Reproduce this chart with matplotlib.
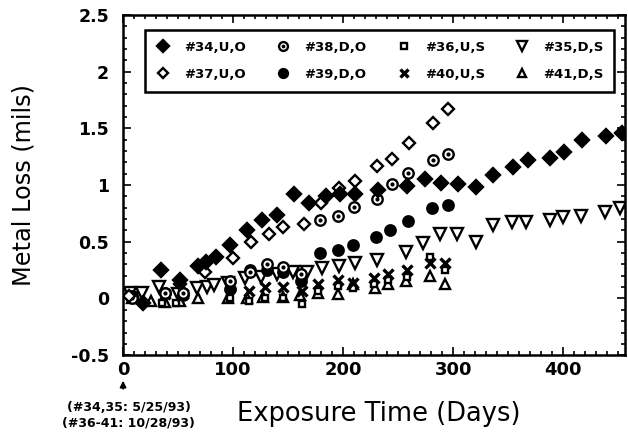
import matplotlib.pyplot as plt
from matplotlib.legend_handler import HandlerTuple
from matplotlib.ticker import MultipleLocator

# Data (days, mils)
x34 = [18, 34, 52, 68, 75, 84, 97, 113, 126, 140, 155, 169, 184, 197, 211, 232, 258, 274,
       289, 304, 321, 336, 354, 368, 388, 401, 417, 439, 453]
y34 = [-0.04, 0.25, 0.16, 0.29, 0.32, 0.37, 0.47, 0.60, 0.69, 0.74, 0.92, 0.84, 0.90, 0.92,
       0.92, 0.96, 0.99, 1.05, 1.02, 1.01, 0.98, 1.09, 1.16, 1.22, 1.24, 1.29, 1.40, 1.43, 1.46]

x37 = [5, 52, 74, 100, 116, 133, 145, 164, 180, 196, 211, 231, 244, 260, 282, 295]
y37 = [0.02, 0.13, 0.23, 0.36, 0.50, 0.57, 0.63, 0.66, 0.84, 0.97, 1.04, 1.17, 1.23, 1.37, 1.55, 1.67]

x38 = [8, 38, 54, 97, 115, 131, 145, 162, 179, 195, 210, 231, 244, 259, 282, 295]
y38 = [0.0, 0.05, 0.05, 0.15, 0.23, 0.30, 0.28, 0.22, 0.69, 0.73, 0.81, 0.88, 1.01, 1.11, 1.22, 1.27]

x39 = [8, 38, 54, 97, 115, 131, 145, 162, 179, 195, 209, 230, 243, 259, 281, 295]
y39 = [0.02, 0.05, 0.03, 0.08, 0.25, 0.25, 0.23, 0.15, 0.40, 0.43, 0.47, 0.54, 0.60, 0.68, 0.80, 0.82]

x35 = [6, 17, 33, 50, 67, 76, 83, 95, 111, 125, 140, 154, 167, 181, 196, 211, 231, 257, 273,
       288, 303, 321, 336, 353, 366, 388, 400, 416, 438, 452]
y35 = [0.05, 0.05, 0.10, 0.04, 0.09, 0.10, 0.12, 0.14, 0.18, 0.19, 0.22, 0.23, 0.23, 0.27,
       0.29, 0.31, 0.34, 0.41, 0.49, 0.57, 0.57, 0.50, 0.65, 0.67, 0.67, 0.69, 0.72, 0.73, 0.76, 0.80]

x36 = [11, 35, 48, 97, 114, 129, 145, 163, 177, 195, 209, 228, 241, 258, 279, 293]
y36 = [-0.01, -0.04, -0.04, 0.0, -0.02, 0.0, 0.0, -0.05, 0.07, 0.11, 0.09, 0.13, 0.16, 0.19, 0.37, 0.25]

x40 = [9, 38, 54, 97, 114, 129, 145, 163, 177, 195, 209, 228, 241, 258, 279, 293]
y40 = [0.02, 0.04, 0.04, 0.10, 0.07, 0.10, 0.10, 0.07, 0.13, 0.16, 0.14, 0.18, 0.22, 0.25, 0.31, 0.31]

x41 = [8, 25, 38, 52, 68, 95, 113, 127, 145, 161, 177, 195, 209, 229, 241, 257, 279, 293]
y41 = [0.0, -0.02, -0.03, -0.02, 0.0, 0.0, 0.0, 0.01, 0.01, 0.03, 0.05, 0.04, 0.13, 0.09,
       0.13, 0.15, 0.20, 0.13]

fig = plt.figure(figsize=(6.28, 4.38), dpi=100)
ax = fig.add_axes([0.196, 0.189, 0.799, 0.777])

mk = dict(linestyle='none', color='black', markeredgewidth=1.7)
h41, = ax.plot(x41, y41, marker='^', markersize=7.5, markerfacecolor='white', **mk)
h36, = ax.plot(x36, y36, marker='s', markersize=5, markerfacecolor='white', **mk)
h40, = ax.plot(x40, y40, marker='x', markersize=6.5, markeredgewidth=2.4, linestyle='none', color='black')
h35, = ax.plot(x35, y35, marker='v', markersize=8.5, markerfacecolor='white', **mk)
h39, = ax.plot(x39, y39, marker='o', markersize=7.5, **mk)
h38a, = ax.plot(x38, y38, marker='o', markersize=7.5, markerfacecolor='white', **mk)
h38b, = ax.plot(x38, y38, marker='o', markersize=2, linestyle='none', color='black')
h37, = ax.plot(x37, y37, marker='D', markersize=6.5, markerfacecolor='white', **mk)
h34, = ax.plot(x34, y34, marker='D', markersize=7.5, **mk)

handles = [h34, h37, (h38a, h38b), h39, h36, h40, h35, h41]
labels = ['#34,U,O', '#37,U,O', '#38,D,O', '#39,D,O', '#36,U,S', '#40,U,S', '#35,D,S', '#41,D,S']
leg = ax.legend(handles, labels, ncol=4, loc='upper left', bbox_to_anchor=(0.03, 0.77, 0.962, 0.205),
                mode='expand', frameon=True, fancybox=False, edgecolor='black', framealpha=1,
                prop={'weight': 'bold', 'size': 9.5}, markerscale=0.85,
                handler_map={tuple: HandlerTuple(ndivide=1)},
                borderpad=0.8, labelspacing=1.1, handlelength=1.2, handletextpad=1.0, columnspacing=1.0)
leg.get_frame().set_linewidth(1.8)

ax.set_xlim(0, 456)
ax.set_ylim(-0.5, 2.5)
ax.xaxis.set_major_locator(MultipleLocator(100))
ax.xaxis.set_minor_locator(MultipleLocator(10))
ax.yaxis.set_minor_locator(MultipleLocator(0.1))
ax.set_yticks([-0.5, 0, 0.5, 1, 1.5, 2, 2.5])
ax.set_yticklabels(['-0.5', '0', '0.5', '1', '1.5', '2', '2.5'])
ax.tick_params(which='both', direction='in', top=True, right=True, width=1.2)
ax.tick_params(which='major', length=6)
ax.tick_params(axis='x', which='major', labelsize=13, pad=4)
ax.tick_params(axis='y', which='major', labelsize=12.5, pad=10)
ax.tick_params(which='minor', length=3)
for lab in ax.get_xticklabels() + ax.get_yticklabels():
    lab.set_fontweight('bold')
for s in ax.spines.values():
    s.set_linewidth(1.8)

ax.set_xlabel('Exposure Time (Days)', fontsize=18.5)
ax.set_ylabel('Metal Loss (mils)', fontsize=17.3)
ax.xaxis.set_label_coords(0.51, -0.135)
ax.yaxis.set_label_coords(-0.175, 0.5)

# start date note under x = 0
ax.annotate('', xy=(0, -0.7), xytext=(0, -0.82), xycoords='data', annotation_clip=False,
            arrowprops=dict(arrowstyle='-|>', color='black', lw=1.3, mutation_scale=9))
fig.text(0.205, 0.052, '(#34,35: 5/25/93)\n(#36-41: 10/28/93)', ha='center', va='center',
         fontsize=9, fontweight='bold', linespacing=1.25)

fig.savefig('out.png', dpi=100)
